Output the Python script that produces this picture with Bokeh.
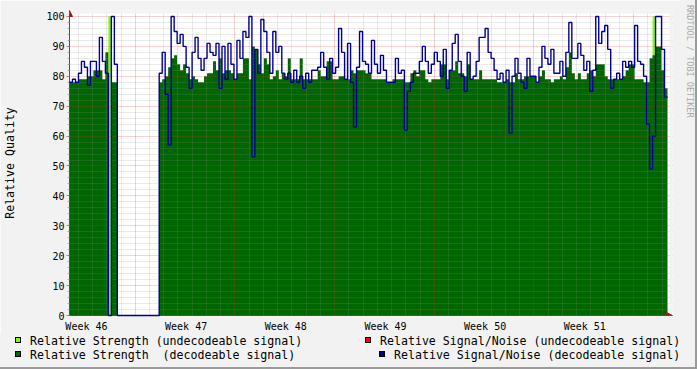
import numpy as np
from bokeh.plotting import figure
from bokeh.models import (Range1d, FixedTicker, Grid, Arrow, NormalHead,
                          CustomJSTickFormatter, Div)
from bokeh.layouts import column, row
from bokeh.embed import file_html
from bokeh.resources import INLINE

# ---------------- data ----------------
# time axis in days from the left edge of the graph window
start_day = 0.0
step_days = 0.21          # one consolidated sample
data_end_day = 42.14      # end of the graph window
x_end_day = 42.35         # includes room for the axis arrow
week_label_day0 = 1.19    # centre of the "Week 46" label
week_grid_day0 = 4.62     # first week boundary (major grid)
day_grid_day0 = 0.62      # first day boundary (minor grid)

week_labels = ["Week 46", "Week 47", "Week 48", "Week 49", "Week 50", "Week 51"]
y_ticks = [0, 10, 20, 30, 40, 50, 60, 70, 80, 90, 100]
y_minor_ticks = list(range(0, 101, 2))

# Relative Strength (decodeable signal)
strength_dec = [
    78, 78, 78, 79, 79, 79, 80, 80, 82, 82, 82, 79, 88, 0, 78, 78,
    0, 0, 0, 0, 0, 0, 0, 0, 0, 0, 0, 0, 0, 0,
    78, 79, 80, 83, 86, 87, 84, 82, 84, 81, 79, 80, 79, 78, 78, 80, 81, 81, 85, 82, 86, 81,
    82, 82, 81, 79, 81, 81, 86, 86, 79, 90, 89, 84, 81, 86, 84, 79, 80, 82, 79, 81, 80, 86,
    79, 79, 79, 86, 79, 79, 79, 79, 79, 82, 80, 80, 85, 85, 79, 79, 80, 80, 79, 79, 82, 81,
    82, 82, 82, 81, 81, 79, 79,
    79, 79, 79, 78, 78, 79, 79, 79, 79, 78, 78, 81, 82, 80, 82, 82, 79, 78, 79, 79, 79, 84,
    84, 79, 82, 82, 85, 81, 81, 80, 84, 79, 79, 79, 82, 79, 79, 79, 79, 79, 78, 78, 78, 79,
    78, 78, 81, 79, 79, 80, 80, 80,
    80, 78, 80, 82, 79, 79, 78, 79, 79, 80, 79, 83, 88, 81, 79, 81, 79, 79, 81, 82, 80, 84,
    84, 84, 80, 79, 79, 79, 79, 79, 80, 82, 84, 84, 79, 79, 79, 78, 78, 86, 87, 90, 90, 82, 76,
]

# Relative Signal/Noise (decodeable signal)
sn_dec = [
    78, 79, 78, 81, 85, 83, 77, 85, 85, 80, 93, 85, 81, 0, 100, 84,
    0, 0, 0, 0, 0, 0, 0, 0, 0, 0, 0, 0, 0, 0,
    81, 88, 74, 57, 100, 95, 91, 94, 90, 83, 76, 88, 93, 86, 82, 86, 91, 88, 87, 91, 76, 90,
    79, 91, 84, 79, 92, 86, 95, 93, 100, 53, 89, 81, 99, 95, 88, 81, 95, 88, 90, 81, 79, 81,
    78, 82, 78, 80, 76, 81, 78, 82, 82, 83, 88, 83, 79, 86, 81, 83, 96, 88, 79, 91, 78, 63,
    83, 95, 85, 84, 81, 92, 84,
    81, 87, 82, 78, 78, 78, 86, 81, 82, 62, 75, 78, 81, 81, 85, 90, 85, 81, 84, 88, 85, 80,
    89, 76, 82, 91, 94, 85, 80, 75, 88, 79, 80, 85, 93, 93, 96, 88, 86, 82, 79, 81, 78, 82,
    61, 80, 86, 81, 78, 76, 86, 80,
    80, 78, 83, 90, 86, 84, 89, 81, 81, 85, 80, 88, 98, 86, 86, 91, 87, 82, 85, 75, 82, 100,
    91, 95, 97, 89, 76, 79, 81, 79, 85, 83, 85, 83, 97, 85, 84, 80, 64, 49, 60, 100, 100, 89, 73,
]

# Relative Strength (undecodeable signal): sparse samples (index, value)
strength_undec_idx = [13, 195]
strength_undec_val = [100, 100]
# Relative Signal/Noise (undecodeable signal): no samples in this period
sn_undec_idx = []
sn_undec_val = []

legend_labels = [
    "Relative Strength (undecodeable signal)",
    "Relative Signal/Noise (undecodeable signal)",
    "Relative Strength  (decodeable signal)",
    "Relative Signal/Noise (decodeable signal)",
]
watermark = "RRDTOOL / TOBI OETIKER"

# ---------------- style ----------------
BG = "#F2F2F2"
GREEN = "#006600"
LIGHT = "#80FF00"
RED = "#FF0000"
BLUE = "#000099"
AXIS = "#505050"
ARROW = "#9B1B1B"
MONO = "DejaVu Sans Mono"

n = len(strength_dec)
edges = start_day + step_days * np.arange(n + 1)
G = np.array(strength_dec + [strength_dec[-1]], dtype=float)
B = np.array(sn_dec + [sn_dec[-1]], dtype=float)

p = figure(width=680, height=334, x_range=Range1d(0, x_end_day), y_range=Range1d(0, 102),
           output_backend="svg", toolbar_location=None,
           min_border_left=67, min_border_right=8, min_border_top=10, min_border_bottom=18,
           background_fill_color="white", border_fill_color=BG, margin=(0, 0, 0, 0))
p.outline_line_color = None
p.grid.visible = False

# undecodeable strength (drawn under the decodeable area)
ux = [start_day + step_days * (i + 0.5) for i in strength_undec_idx]
p.vbar(x=ux, top=strength_undec_val, bottom=0, width=step_days, fill_color=LIGHT, line_color=None)
if sn_undec_idx:
    sx = [start_day + step_days * (i + 0.5) for i in sn_undec_idx]
    p.scatter(sx, sn_undec_val, color=RED, size=2)

p.varea_step(x=edges, y1=np.zeros(n + 1), y2=G, step_mode="after", fill_color=GREEN)
line = p.step(edges, B, mode="after", line_color=BLUE, line_width=1.4)
line.level = "overlay"

# grids (drawn over the area like rrdtool)
day_lines = [day_grid_day0 + k for k in range(0, 43)]
week_lines = [week_grid_day0 + 7 * k for k in range(6)]
day_minor = [d for d in day_lines if d < data_end_day and all(abs(d - w) > 1e-6 for w in week_lines)]
y_minor_only = [v for v in y_minor_ticks if v % 10 != 0]
y_major_only = [v for v in y_ticks if v != 0]

for dim, ticks, color, alpha in [
    (0, day_minor, "#8F8F8F", 0.38),
    (1, y_minor_only, "#8F8F8F", 0.38),
    (0, week_lines, "#DE3030", 0.45),
    (1, y_major_only, "#DE3030", 0.45),
]:
    g = Grid(dimension=dim, ticker=FixedTicker(ticks=ticks), grid_line_color=color,
             grid_line_alpha=alpha, grid_line_dash="1 1", grid_line_width=1, level="annotation")
    p.add_layout(g)

# canvas margins beyond the graph area (background colour) so the arrows sit on grey
p.quad(left=[0], right=[x_end_day], bottom=[101], top=[102], fill_color=BG, line_color=None,
       level="overlay")
p.quad(left=[data_end_day], right=[x_end_day], bottom=[0], top=[102], fill_color=BG,
       line_color=None, level="overlay")

# y axis
ya = p.yaxis[0]
ya.ticker = FixedTicker(ticks=y_ticks, minor_ticks=y_minor_ticks)
ya.major_tick_in = 0
ya.major_tick_out = 3
ya.major_tick_line_color = "#DE3030"
ya.major_tick_line_alpha = 0.7
ya.minor_tick_in = 0
ya.minor_tick_out = 2
ya.minor_tick_line_color = "#8F8F8F"
ya.minor_tick_line_alpha = 0.7
ya.axis_line_color = AXIS
ya.major_label_text_font = MONO
ya.major_label_text_font_size = "10px"
ya.major_label_text_color = "black"
ya.major_label_standoff = 2
ya.axis_label = "Relative Quality"
ya.axis_label_text_font = MONO
ya.axis_label_text_font_size = "11.6px"
ya.axis_label_text_font_style = "normal"
ya.axis_label_text_color = "black"
ya.axis_label_standoff = 26

# x axis
xa = p.xaxis[0]
label_days = [week_label_day0 + 7 * k for k in range(len(week_labels))]
xa.ticker = FixedTicker(ticks=label_days)
xa.formatter = CustomJSTickFormatter(args=dict(labels=week_labels, off=week_label_day0),
                                     code="const i = Math.round((tick - off) / 7); return labels[i] || '';")
xa.major_tick_in = 0
xa.major_tick_out = 0
xa.minor_tick_in = 0
xa.minor_tick_out = 0
xa.major_tick_line_color = None
xa.minor_tick_line_color = None
xa.axis_line_color = AXIS
xa.major_label_text_font = MONO
xa.major_label_text_font_size = "10px"
xa.major_label_text_color = "black"
xa.major_label_standoff = 5

# axis arrows
for xs, ys, xe, ye in [(0, 100.7, 0, 102), (data_end_day, 0, x_end_day, 0)]:
    p.add_layout(Arrow(end=NormalHead(size=6, fill_color=ARROW, line_color=ARROW, line_width=1),
                       x_start=xs, y_start=ys, x_end=xe, y_end=ye,
                       line_color=AXIS, line_width=1, level="overlay"))

# ---------------- watermark strip (right) ----------------
wm_html = (
    f'<div style="position:relative;width:17px;height:334px;background:{BG};'
    f'box-sizing:border-box;border-right:2px solid #9A9A9A;overflow:hidden;">'
    f'<span style="position:absolute;left:5px;top:5px;writing-mode:vertical-rl;'
    f"font-family:'{MONO}';font-size:8.5px;line-height:9px;color:#A8A8A8;white-space:pre;\">"
    f'{watermark}</span></div>'
)
wm = Div(text=wm_html, width=17, height=334, margin=(0, 0, 0, 0),
         styles={"padding": "0", "margin": "0", "background-color": BG})

# ---------------- legend strip (bottom) ----------------
legend_colors = [LIGHT, RED, GREEN, BLUE]
sq_left = [15, 365, 15, 379]
txt_left = [30, 380, 30, 394]
row_top = [0, 0, 14, 14]
parts = []
for lab, col, sl, tl, rt in zip(legend_labels, legend_colors, sq_left, txt_left, row_top):
    parts.append(
        f'<span style="position:absolute;left:{sl}px;top:{rt + 3}px;width:6px;height:6px;'
        f'border:1px solid #000;background:{col};"></span>'
    )
    parts.append(
        f'<span style="position:absolute;left:{tl}px;top:{rt}px;line-height:14px;'
        f"font-family:'{MONO}';font-size:11.6px;color:#000;white-space:pre;\">{lab}</span>"
    )
leg_html = (
    f'<div style="position:relative;width:697px;height:35px;background:{BG};'
    f'box-sizing:border-box;border-right:2px solid #9A9A9A;border-bottom:2px solid #9A9A9A;'
    f'overflow:hidden;">' + "".join(parts) + '</div>'
)
leg = Div(text=leg_html, width=697, height=35, margin=(0, 0, 0, 0),
          styles={"padding": "0", "margin": "0", "background-color": BG})

layout = column(row(p, wm, spacing=0), leg, spacing=0)
open("out.html", "w").write(file_html(layout, INLINE))
